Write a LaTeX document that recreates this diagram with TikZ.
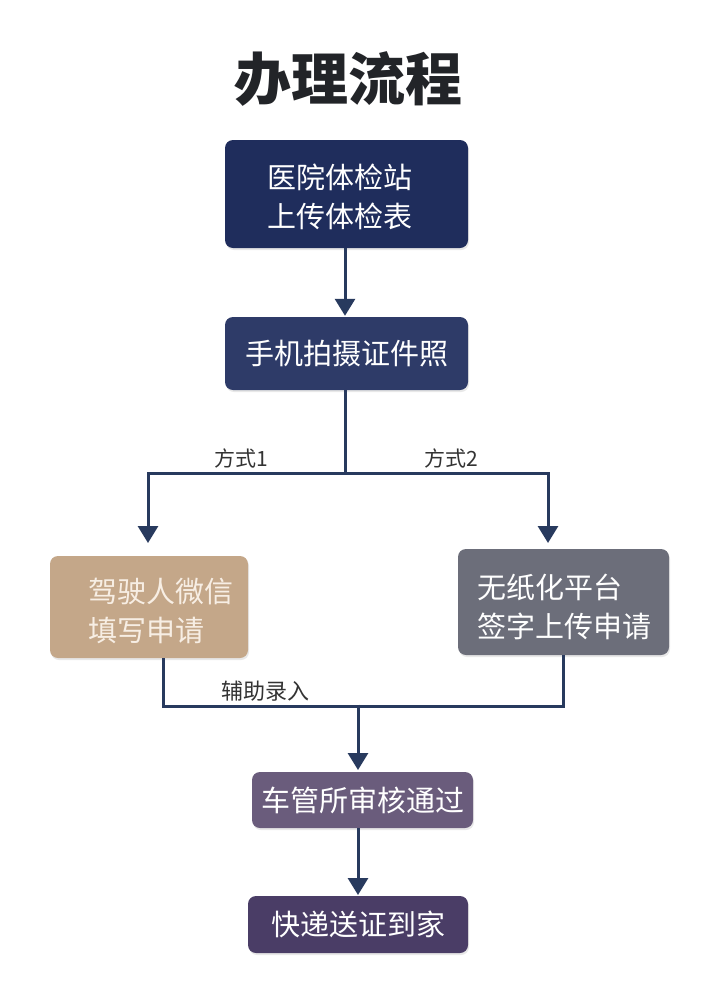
\documentclass[tikz,border=0pt]{standalone}
\usepackage{fontspec}
\setmainfont{Noto Sans CJK SC}
\usetikzlibrary{arrows.meta,shadows}
\definecolor{navyA}{HTML}{1F2D5C}
\definecolor{navyB}{HTML}{2E3B68}
\definecolor{tanC}{HTML}{C4A789}
\definecolor{grayD}{HTML}{6C6E7A}
\definecolor{purpE}{HTML}{6A5C7C}
\definecolor{purpF}{HTML}{4A3D66}
\definecolor{lineC}{HTML}{283A5E}
\definecolor{titleC}{HTML}{222428}
\definecolor{labelC}{HTML}{333333}
\definecolor{creamT}{HTML}{F7EEE4}
\tikzset{
  flowbox/.style={rounded corners=8pt, draw=none, inner sep=0pt,
    drop shadow={opacity=0.18, shadow xshift=1pt, shadow yshift=-2pt},
    font=\fontsize{29}{39}\selectfont, text=white, align=center},
  boxtext/.style={inner sep=0pt, font=\fontsize{29}{39}\selectfont, align=left, anchor=west},
  conn/.style={draw=lineC, line width=3pt},
  arr/.style={conn, -{Triangle[width=20pt,length=17pt]}},
  lbl/.style={inner sep=0pt, text=labelC}
}
\begin{document}
\begin{tikzpicture}[x=1pt,y=-1pt]
\useasboundingbox[fill=white] (0,0) rectangle (720,983);
% title
\node[inner sep=0pt, text=titleC, font=\fontsize{57}{60}\selectfont\bfseries] (title) at (348,79) {办理流程};
% boxes
\node[flowbox, fill=navyA, minimum width=243pt, minimum height=108pt] (b1) at (346.5,194) {};
\node[inner sep=0pt, font=\fontsize{29}{39}\selectfont, text=white, align=center] (t1) at (340,197) {医院体检站\\上传体检表};
\node[flowbox, fill=navyB, minimum width=243pt, minimum height=73pt] (b2) at (346.5,353.5) {手机拍摄证件照};
\node[flowbox, fill=tanC, minimum width=198pt, minimum height=102pt] (b3) at (149,607) {};
\node[boxtext, text=creamT] (t3) at (88,611) {驾驶人微信\\填写申请};
\node[flowbox, fill=grayD, minimum width=211pt, minimum height=106pt] (b4) at (563.5,602) {};
\node[boxtext, text=white] (t4) at (477,607) {无纸化平台\\签字上传申请};
\node[flowbox, fill=purpE, minimum width=221pt, minimum height=56pt] (b5) at (362.5,800) {车管所审核通过};
\node[flowbox, fill=purpF, minimum width=220pt, minimum height=57pt] (b6) at (358,924.5) {快递送证到家};
% coordinates
\coordinate (split) at (345,473);
\coordinate (tip3) at (148,543);
\coordinate (tip4) at (548,543);
\coordinate (j3) at (163,706);
\coordinate (j4) at (563,706);
\coordinate (merge) at (358,706);
\coordinate (tip5) at (358,770);
\coordinate (tip6) at (358,895);
% connectors
\draw[arr] (b1.south -| split) -- ([yshift=1pt]b2.north -| split);
\draw[conn] (b2.south -| split) -- ([yshift=-1.5pt]split);
\draw[arr] (split) -| (tip3);
\draw[arr] (split) -| (tip4);
\draw[conn] (b3.south -| j3) -- (j3) -- (j4) -- (b4.south -| j4);
\draw[arr] ([yshift=1.5pt]merge) -- (tip5);
\draw[arr] (b5.south -| tip6) -- (tip6);
% labels
\node[lbl, font=\fontsize{21}{24}\selectfont] (m1) at (241,458) {方式1};
\node[lbl, font=\fontsize{21}{24}\selectfont] (m2) at (451,458) {方式2};
\node[lbl, font=\fontsize{22}{24}\selectfont] (m3) at (265,691) {辅助录入};
\end{tikzpicture}
\end{document}
